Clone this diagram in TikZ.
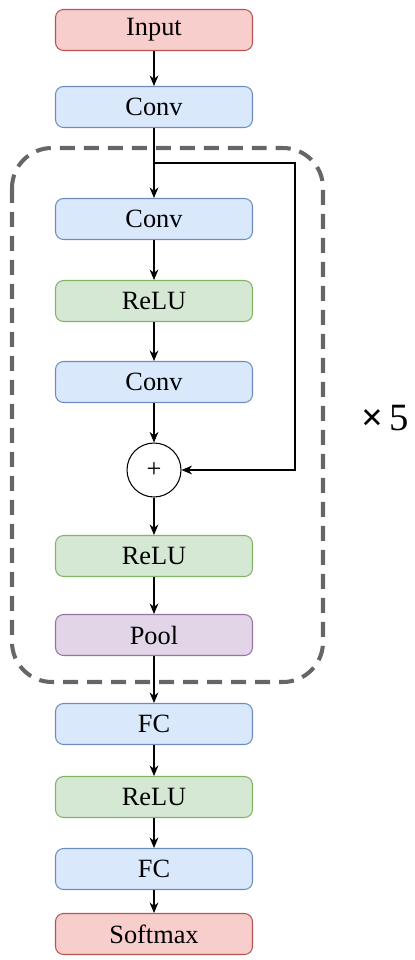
\documentclass[tikz,border=0pt]{standalone}
\usepackage{fontspec}
\setmainfont{Liberation Serif}
\usetikzlibrary{arrows.meta}
\definecolor{redfill}{HTML}{F8CECC}
\definecolor{redline}{HTML}{B85450}
\definecolor{bluefill}{HTML}{DAE8FC}
\definecolor{blueline}{HTML}{6C8EBF}
\definecolor{greenfill}{HTML}{D5E8D4}
\definecolor{greenline}{HTML}{82B366}
\definecolor{purplefill}{HTML}{E1D5E7}
\definecolor{purpleline}{HTML}{9673A6}
\definecolor{boxgray}{HTML}{666666}
\begin{document}
\begin{tikzpicture}[x=0.02cm, y=-0.02cm, >={Stealth[length=6pt,width=5pt]}, line width=0.6pt,
        layer/.style={draw, rounded corners=0.16cm, minimum width=3.94cm, minimum height=0.82cm, inner sep=0pt, font=\fontsize{15}{18}\selectfont},
        io/.style={layer, fill=redfill, draw=redline},
        conv/.style={layer, fill=bluefill, draw=blueline},
        relu/.style={layer, fill=greenfill, draw=greenline},
        pool/.style={layer, fill=purplefill, draw=purpleline},
        sum/.style={draw, circle, minimum size=1.08cm, inner sep=0pt, font=\fontsize{15}{18}\selectfont}]

        \useasboundingbox (0,0) rectangle (414,960);

        % dashed residual block
        \draw[boxgray, line width=2.3pt, dash pattern=on 0.3cm off 0.18cm, rounded corners=0.8cm] (12,148) rectangle (323,682);
        \node[font=\fontsize{22}{26}\selectfont] (times) at (385,418) {\textbf{×}\,5};

        \node[io] (input) at (154,30) {Input};
        \node[conv] (conv0) at (154,107) {Conv};
        \node[conv] (conv1) at (154,219) {Conv};
        \node[relu] (relu1) at (154,301) {ReLU};
        \node[conv] (conv2) at (154,382) {Conv};
        \node[sum] (add) at (154,470) {+};
        \node[relu] (relu2) at (154,556) {ReLU};
        \node[pool] (pool) at (154,635) {Pool};
        \node[conv] (fc1) at (154,724) {FC};
        \node[relu] (relu3) at (154,797) {ReLU};
        \node[conv] (fc2) at (154,869) {FC};
        \node[io] (out) at (154,934) {Softmax};

        \coordinate (split) at (154,163);
        \coordinate (skip) at (295,163);

        \path[->]
            (input) edge (conv0)
            (conv0) edge (conv1)
            (conv1) edge (relu1)
            (relu1) edge (conv2)
            (conv2) edge (add)
            (add) edge (relu2)
            (relu2) edge (pool)
            (pool) edge (fc1)
            (fc1) edge (relu3)
            (relu3) edge (fc2)
            (fc2) edge (out)
            ;
        \draw[->] (split) -- (skip) |- (add);
\end{tikzpicture}
\end{document}
